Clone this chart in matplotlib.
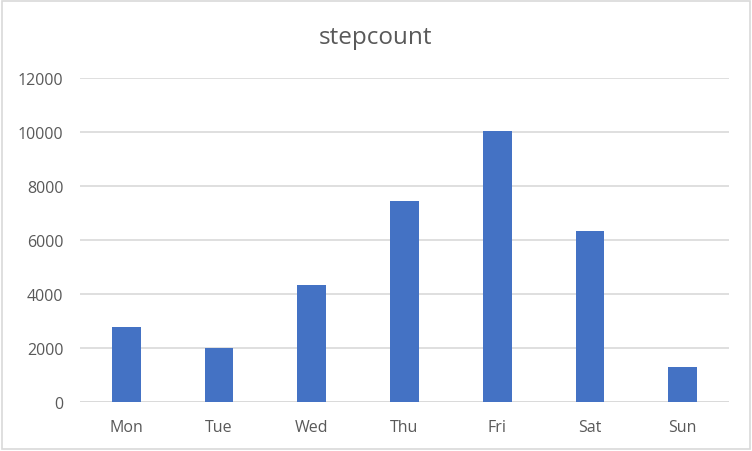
import matplotlib.pyplot as plt
from matplotlib.patches import Rectangle

# step counts per weekday
days = ["Mon", "Tue", "Wed", "Thu", "Fri", "Sat", "Sun"]
steps = [2780, 2000, 4350, 7440, 10030, 6330, 1300]
yticks = [0, 2000, 4000, 6000, 8000, 10000, 12000]

plt.rcParams["font.family"] = ["Open Sans", "DejaVu Sans"]

fig = plt.figure(figsize=(7.52, 4.52), dpi=100)
ax = fig.add_axes([80 / 752, 1 - 403 / 452, (729 - 80) / 752, (403 - 79) / 452])

ax.bar(range(len(days)), steps, width=0.31, color="#4472c4", zorder=3)
ax.set_xlim(-0.5, len(days) - 0.5)
ax.set_ylim(0, 12000)
ax.set_yticks(yticks)
ax.set_xticks(range(len(days)))
ax.set_xticklabels(days)
ax.yaxis.grid(True, color="#d9d9d9", linewidth=1.2, zorder=0)
for s in ax.spines.values():
    s.set_visible(False)
ax.axhline(0, color="#d9d9d9", linewidth=1.2, zorder=2)
ax.tick_params(axis="both", length=0, labelcolor="#595959", labelsize=11.5)
ax.tick_params(axis="y", pad=12)
ax.tick_params(axis="x", pad=12)

fig.text(0.5, 1 - 38 / 452, "stepcount", ha="center", va="center",
         fontsize=17.5, color="#595959")

fig.patches.append(Rectangle((0.003, 0.004), 0.994, 0.992, transform=fig.transFigure,
                             fill=False, edgecolor="#d9d9d9", linewidth=1.2))

fig.savefig("out.png", dpi=100)
